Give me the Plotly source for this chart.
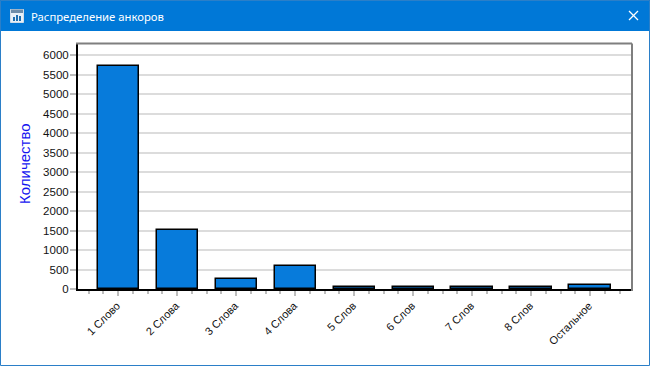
import plotly.graph_objects as go

categories = ["1 Слово", "2 Слова", "3 Слова", "4 Слова", "5 Слов", "6 Слов", "7 Слов", "8 Слов", "Остальное"]
counts = [5715, 1520, 265, 600, 50, 50, 50, 50, 105]
y_ticks = list(range(0, 6001, 500))
title_text = "Распределение анкоров"
y_title = "Количество"

W, H = 650, 366
L, R, T, B = 78, 631, 44, 289
BLUE = "#0078D7"
positions = list(range(len(categories)))

def px(x):
    return (x - L) / (R - L)

def py(y):
    return (B - y) / (B - T)

def rect(x0, y0, x1, y1, fill, line=None, layer="above"):
    return dict(type="rect", xref="paper", yref="paper", layer=layer,
                x0=px(x0), x1=px(x1), y0=py(y1), y1=py(y0), fillcolor=fill,
                line=line or dict(width=0))

def seg(x0, y0, x1, y1, color, width):
    return dict(type="line", xref="paper", yref="paper", x0=px(x0), x1=px(x1), y0=py(y0), y1=py(y1),
                line=dict(color=color, width=width))

shapes = [
    rect(0, 0, W, 31, BLUE),
    rect(0.5, 0.5, W - 0.5, H - 0.5, "rgba(0,0,0,0)", dict(color="#2B7FC8", width=1)),
    seg(629, 11, 638, 20, "white", 1.3),
    seg(629, 20, 638, 11, "white", 1.3),
    rect(10.5, 9.5, 23.5, 22.5, "#E8F0F8", dict(color="#D0DCE8", width=1)),
    rect(11, 9.5, 23, 13, "#6E8CA8"),
    rect(13, 17, 15, 21, "#1F6FB0"),
    rect(16, 15, 18, 21, "#1F6FB0"),
    rect(19, 16, 21, 21, "#1F6FB0"),
    seg(76, T - 0.5, R + 1, T - 0.5, "#7F7F7F", 2),
    seg(R + 1, T - 0.5, R + 1, B + 2, "#7F7F7F", 2),
]

annotations = [
    dict(text=title_text, xref="paper", yref="paper", x=px(29), y=py(16.5), xanchor="left", yanchor="middle",
         showarrow=False, font=dict(family="Noto Sans", size=11.3, color="white")),
    dict(text=y_title, xref="paper", yref="paper", x=px(24.5), y=py(163.5), xanchor="center", yanchor="middle",
         textangle=-90, showarrow=False, font=dict(family="Liberation Sans", size=15, color="#1414F0")),
]

fig = go.Figure(go.Bar(
    x=positions, y=counts, width=0.695,
    marker=dict(color="#077BDB", line=dict(color="black", width=1.5)),
    hoverinfo="skip",
))

fig.update_layout(
    width=W, height=H, autosize=False, showlegend=False,
    margin=dict(l=L, r=W - R, t=T, b=H - B, pad=0),
    paper_bgcolor="white", plot_bgcolor="white",
    font=dict(family="Liberation Sans", size=11, color="#111111"),
    shapes=shapes, annotations=annotations, bargap=0,
)
fig.update_xaxes(
    range=[-0.678, 8.695], tickmode="array", tickvals=positions, ticktext=categories,
    tickangle=-45, ticks="outside", ticklen=5, tickwidth=1.5, tickcolor="#BDBDBD",
    ticklabelstandoff=-1, ticklabelshift=-1,
    showgrid=False, zeroline=False, showline=True, linecolor="black", linewidth=2,
    minor=dict(dtick=0.25, tick0=0, ticks="outside", ticklen=3, tickwidth=1.5, tickcolor="#BDBDBD", showgrid=False),
    tickfont=dict(family="Liberation Sans", size=11, color="#111111"),
)
fig.update_yaxes(
    range=[0, 6282], tickmode="array", tickvals=y_ticks, ticktext=[str(v) for v in y_ticks],
    ticks="outside", ticklen=6, tickwidth=1.5, tickcolor="#BDBDBD", ticklabelstandoff=-1,
    showgrid=True, gridcolor="#DCDCDC", gridwidth=2, zeroline=False,
    showline=True, linecolor="black", linewidth=2,
    tickfont=dict(family="Liberation Sans", size=11.5, color="#111111"),
)
fig.write_html("out.html", config=dict(displayModeBar=False), post_script="document.body.style.margin='0';")
